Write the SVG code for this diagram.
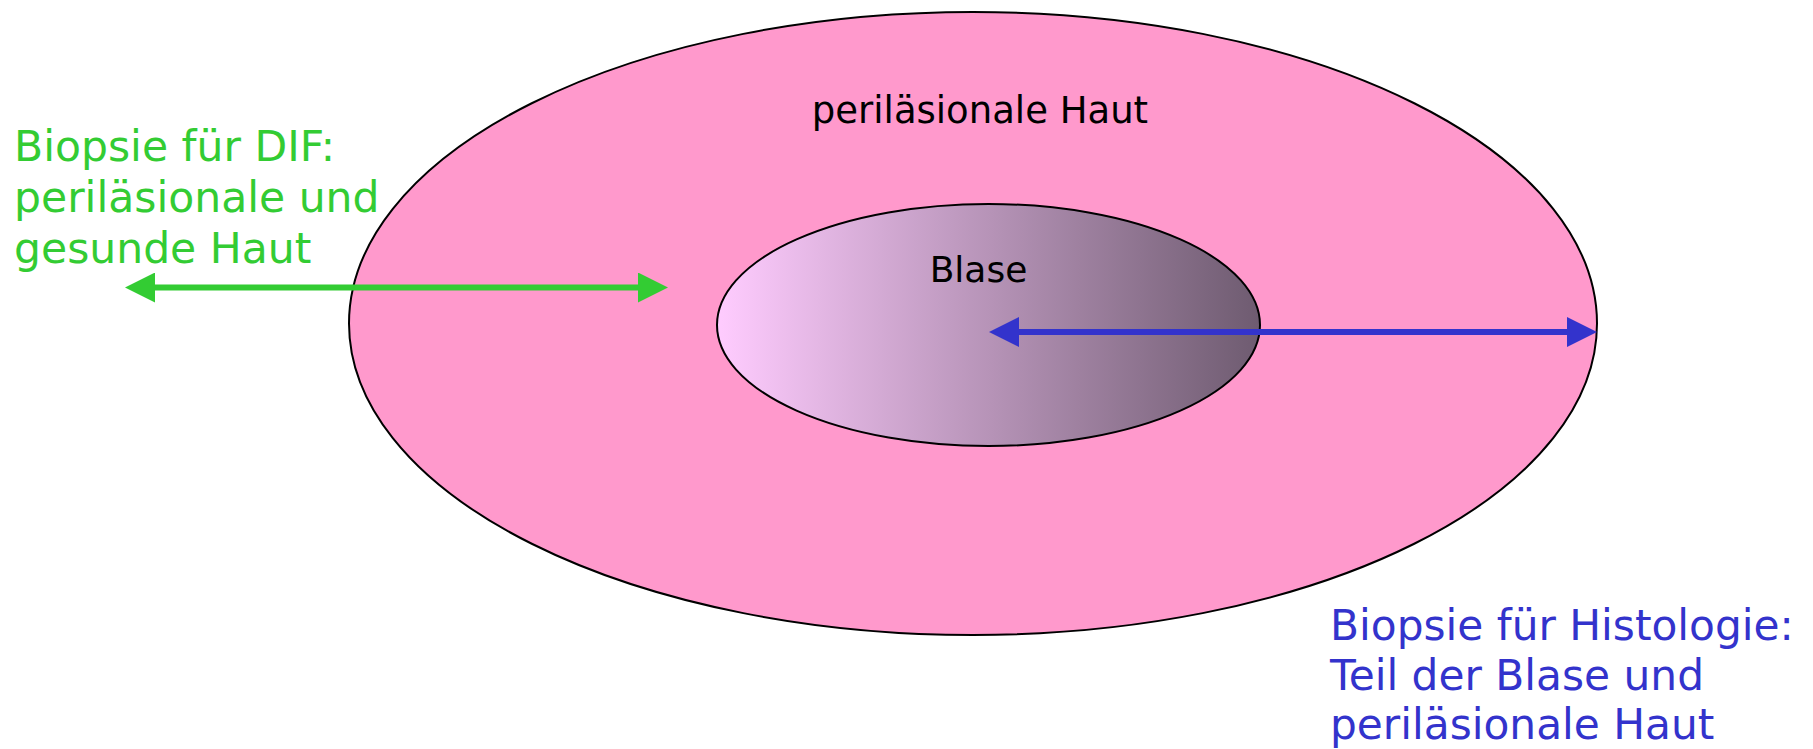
<svg xmlns="http://www.w3.org/2000/svg" width="1813" height="749" viewBox="0 0 1813 749">
<style>
.lbl{font-family:"DejaVu Sans","Verdana",sans-serif;}
.blk{fill:#000;font-size:36px;text-anchor:middle;}
.big{font-size:37px;}
.grn{fill:#33CC33;font-size:42.5px;}
.blu{fill:#3333CC;font-size:42.3px;}
.edge{fill:none;stroke-width:6;}
</style>
<defs>
<linearGradient id="blaseGrad" x1="0" y1="0" x2="1" y2="0">
<stop offset="0" stop-color="#FFCCFF"/>
<stop offset="1" stop-color="#6E5B70"/>
</linearGradient>
<marker id="headG" viewBox="0 0 30 30" refX="20" refY="15" markerWidth="30" markerHeight="30" markerUnits="userSpaceOnUse" orient="auto-start-reverse">
<path d="M0,0 L30,15 L0,30 Z" fill="#33CC33"/>
</marker>
<marker id="headB" viewBox="0 0 30 30" refX="20" refY="15" markerWidth="30" markerHeight="30" markerUnits="userSpaceOnUse" orient="auto-start-reverse">
<path d="M0,0 L30,15 L0,30 Z" fill="#3333CC"/>
</marker>
</defs>
<rect width="1813" height="749" fill="#FFFFFF"/>
<g id="perilaesionale-haut">
<ellipse cx="973" cy="323.5" rx="624" ry="311.5" fill="#FF99CC" stroke="#000" stroke-width="2"/>
<text class="lbl blk big" x="980" y="123">periläsionale Haut</text>
</g>
<g id="blase">
<ellipse cx="988.5" cy="325" rx="271.5" ry="121" fill="url(#blaseGrad)" stroke="#000" stroke-width="2"/>
<text class="lbl blk" x="978.5" y="282">Blase</text>
</g>
<g id="connectors">
<path class="edge" d="M135,287.5 L658,287.5" stroke="#33CC33" marker-start="url(#headG)" marker-end="url(#headG)"/>
<path class="edge" d="M999,332 L1587,332" stroke="#3333CC" marker-start="url(#headB)" marker-end="url(#headB)"/>
</g>
<g id="label-dif">
<text class="lbl grn" x="14" y="161">Biopsie für DIF:</text>
<text class="lbl grn" x="14" y="212">periläsionale und</text>
<text class="lbl grn" x="14" y="263">gesunde Haut</text>
</g>
<g id="label-histologie">
<text class="lbl blu" x="1330" y="640">Biopsie für Histologie:</text>
<text class="lbl blu" x="1330" y="690">Teil der Blase und</text>
<text class="lbl blu" x="1330" y="739">periläsionale Haut</text>
</g>
</svg>
